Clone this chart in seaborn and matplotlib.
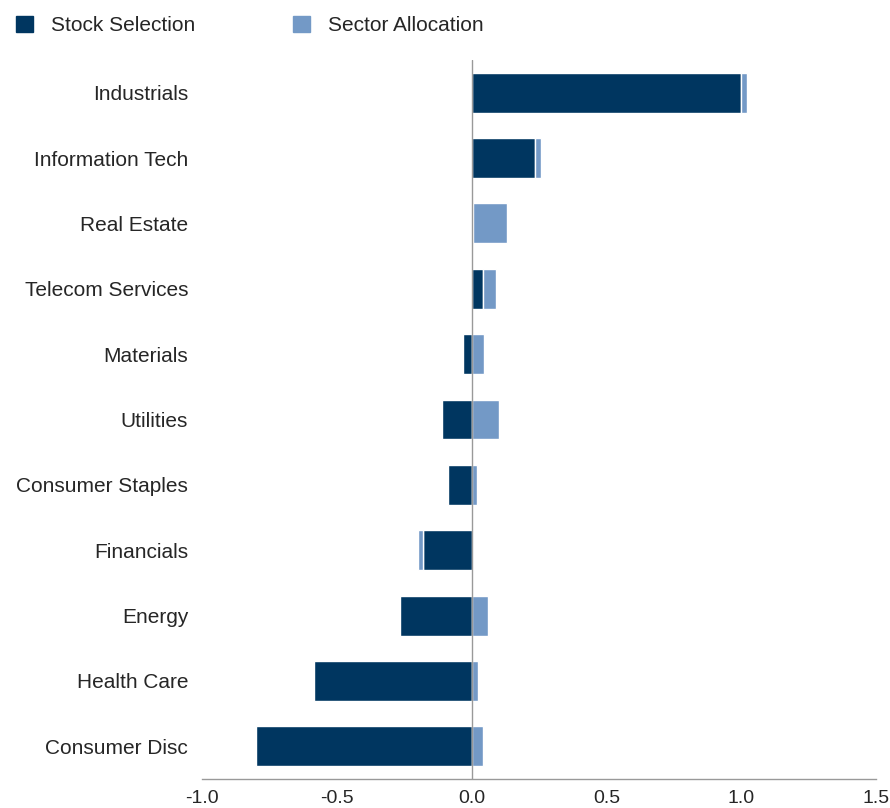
import numpy as np
import pandas as pd
import matplotlib
matplotlib.use("Agg")
import matplotlib.pyplot as plt
import seaborn as sns
from matplotlib.patches import Patch

sectors = ['Industrials', 'Information Tech', 'Real Estate', 'Telecom Services',
           'Materials', 'Utilities', 'Consumer Staples', 'Financials', 'Energy',
           'Health Care', 'Consumer Disc']
stock_selection = [1.00, 0.236, 0.005, 0.043, -0.032, -0.11, -0.088, -0.181, -0.266, -0.585, -0.80]
sector_allocation = [0.02, 0.022, 0.125, 0.047, 0.045, 0.103, 0.019, -0.016, 0.06, 0.023, 0.044]
xticks = [-1.0, -0.5, 0.0, 0.5, 1.0, 1.5]

dark = '#003660'
light = '#7399C6'

df = pd.DataFrame({'sector': sectors, 'stock': stock_selection, 'alloc': sector_allocation})
# stack like Excel: same sign continues from the stock bar, otherwise starts at zero
df['left'] = np.where(np.sign(df['stock']) == np.sign(df['alloc']), df['stock'], 0.0)

sns.set_style('white')
plt.rcParams['font.family'] = ['Liberation Sans', 'DejaVu Sans']

fig = plt.figure(figsize=(8.9, 8.08), dpi=100)
ax = fig.add_axes([0.227, 0.0359, 0.7572, 0.8898])

sns.barplot(data=df, x='stock', y='sector', orient='h', color=dark,
            saturation=1, width=0.61, ax=ax, zorder=2)
ax.barh(np.arange(len(df)), df['alloc'], left=df['left'], height=0.61,
        color=light, zorder=2)

ax.axvline(0, color='#999999', lw=1, zorder=3)

ax.set_xlim(-1.0, 1.5)
ax.set_ylim(len(df) - 0.5, -0.5)
ax.set_xticks(xticks)
ax.set_xticklabels([f'{t:.1f}' for t in xticks])
ax.set_xlabel('')
ax.set_ylabel('')

for s in ['left', 'right', 'top']:
    ax.spines[s].set_visible(False)
ax.spines['bottom'].set_color('#999999')
ax.spines['bottom'].set_linewidth(1)

ax.tick_params(axis='y', length=0, pad=10, labelsize=15)
for lbl in ax.get_yticklabels():
    lbl.set_va('center_baseline')
ax.tick_params(axis='x', direction='out', length=5, color='#999999',
               labelsize=14, pad=3)

handles = [Patch(color=dark, label='Stock Selection'),
           Patch(color=light, label='Sector Allocation')]
fig.legend(handles=handles, loc='upper left', bbox_to_anchor=(0.018, 0.980),
           ncol=2, frameon=False, fontsize=15, handlelength=0.82,
           handleheight=0.82, handletextpad=0.85, columnspacing=4.7,
           borderpad=0, borderaxespad=0)

fig.savefig('out.png', dpi=100)
